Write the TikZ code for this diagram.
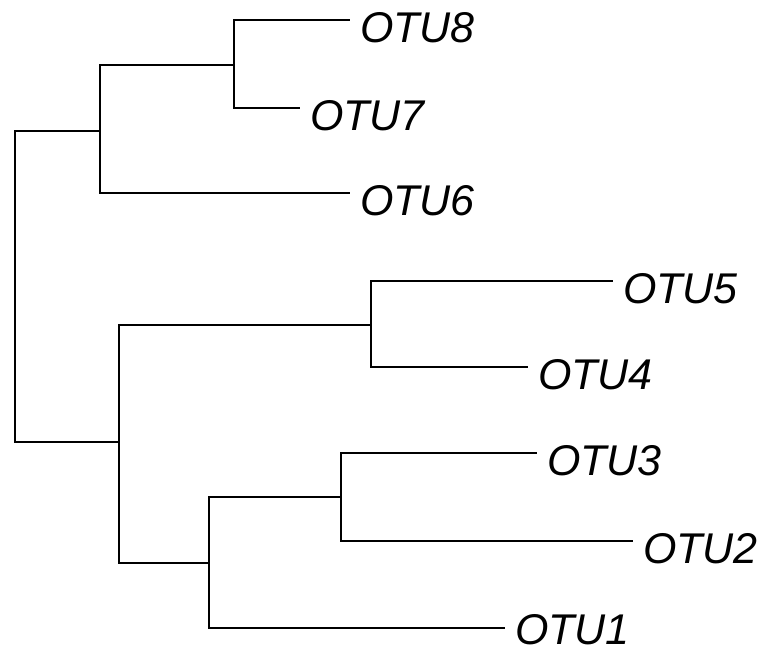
\documentclass[tikz,border=0pt]{standalone}
\usepackage{fontspec}
\setmainfont{Liberation Sans}
\begin{document}
\begin{tikzpicture}[x=1pt,y=-1pt,
  branch/.style={line width=2.3pt,line join=miter,line cap=butt},
  taxon/.style={anchor=base west,inner sep=0pt,xshift=10pt,yshift=-22.5pt,
    font=\fontsize{43}{50}\selectfont\itshape}]
\useasboundingbox (0,0) rectangle (763,648);
% internal nodes of the tree
\coordinate (root) at (15,286);
\coordinate (n1) at (100,131);
\coordinate (n2) at (234,65);
\coordinate (n3) at (119,442);
\coordinate (n4) at (371,325);
\coordinate (n5) at (209,563);
\coordinate (n6) at (341,497);
% leaf tips
\coordinate (t8) at (350,20);
\coordinate (t7) at (300,108);
\coordinate (t6) at (350,193);
\coordinate (t5) at (613,281);
\coordinate (t4) at (528,367);
\coordinate (t3) at (537,453);
\coordinate (t2) at (633,541);
\coordinate (t1) at (505,628);
% branches
\draw[branch] (root) |- (n1);
\draw[branch] (root) |- (n3);
\draw[branch] (n1) |- (n2);
\draw[branch] (n1) |- (t6);
\draw[branch] (n2) |- (t8);
\draw[branch] (n2) |- (t7);
\draw[branch] (n3) |- (n4);
\draw[branch] (n3) |- (n5);
\draw[branch] (n4) |- (t5);
\draw[branch] (n4) |- (t4);
\draw[branch] (n5) |- (n6);
\draw[branch] (n5) |- (t1);
\draw[branch] (n6) |- (t3);
\draw[branch] (n6) |- (t2);
% taxon labels
\node[taxon] (l8) at (t8) {OTU8};
\node[taxon] (l7) at (t7) {OTU7};
\node[taxon] (l6) at (t6) {OTU6};
\node[taxon] (l5) at (t5) {OTU5};
\node[taxon] (l4) at (t4) {OTU4};
\node[taxon] (l3) at (t3) {OTU3};
\node[taxon] (l2) at (t2) {OTU2};
\node[taxon,yshift=6pt] (l1) at (t1) {OTU1};
\end{tikzpicture}
\end{document}
